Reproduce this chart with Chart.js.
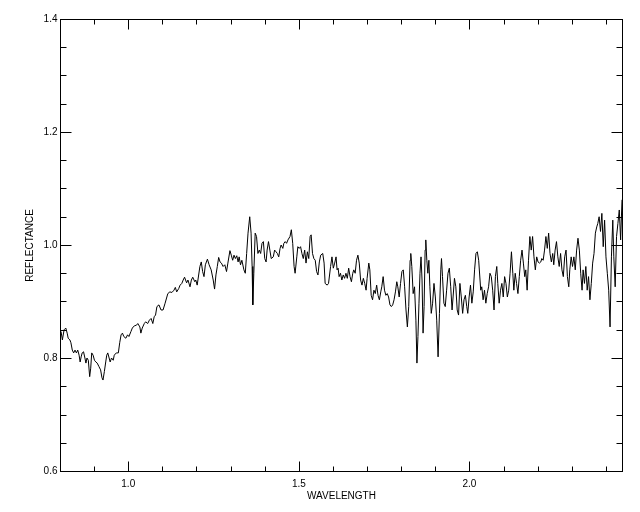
<!DOCTYPE html>
<html>
<head>
<meta charset="utf-8">
<script src="https://cdn.jsdelivr.net/npm/chart.js@4"></script>
<style>
  html, body { margin: 0; padding: 0; background: #fff; }
</style>
</head>
<body>
<canvas id="spectrum" width="640" height="512"></canvas>
<script>
// spectrum
const wavelength = [
  0.803,0.807,0.812,0.817,0.821,0.824,0.829,0.832,0.836,0.840,
  0.844,0.848,0.852,0.856,0.859,0.862,0.865,0.869,0.873,0.876,
  0.879,0.883,0.887,0.890,0.893,0.897,0.901,0.905,0.909,0.914,
  0.919,0.923,0.926,0.930,0.934,0.937,0.940,0.944,0.947,0.951,
  0.956,0.959,0.965,0.971,0.975,0.979,0.983,0.987,0.993,0.998,
  1.002,1.008,1.012,1.018,1.024,1.028,1.034,1.037,1.041,1.047,
  1.051,1.057,1.062,1.067,1.072,1.076,1.080,1.084,1.090,1.096,
  1.102,1.108,1.116,1.122,1.128,1.134,1.138,1.142,1.148,1.152,
  1.157,1.161,1.165,1.171,1.175,1.181,1.185,1.189,1.195,1.198,
  1.202,1.210,1.214,1.218,1.222,1.226,1.232,1.237,1.243,1.249,
  1.253,1.257,1.261,1.265,1.269,1.273,1.278,1.283,1.288,1.292,
  1.298,1.302,1.306,1.310,1.314,1.318,1.322,1.325,1.329,1.333,
  1.339,1.343,1.347,1.351,1.356,1.360,1.363,1.365,1.368,1.372,
  1.376,1.380,1.384,1.388,1.392,1.396,1.400,1.404,1.407,1.411,
  1.415,1.419,1.425,1.429,1.433,1.437,1.441,1.445,1.448,1.453,
  1.456,1.460,1.464,1.468,1.474,1.478,1.482,1.486,1.489,1.494,
  1.497,1.501,1.505,1.509,1.513,1.517,1.521,1.525,1.529,1.533,
  1.536,1.540,1.544,1.548,1.552,1.556,1.560,1.564,1.570,1.574,
  1.577,1.583,1.587,1.593,1.597,1.601,1.605,1.609,1.612,1.615,
  1.618,1.622,1.626,1.630,1.634,1.638,1.642,1.646,1.650,1.654,
  1.658,1.661,1.665,1.669,1.673,1.677,1.681,1.685,1.689,1.693,
  1.697,1.700,1.705,1.708,1.712,1.716,1.720,1.724,1.728,1.732,
  1.736,1.740,1.743,1.747,1.751,1.755,1.759,1.763,1.767,1.771,
  1.775,1.779,1.783,1.787,1.790,1.794,1.798,1.802,1.806,1.810,
  1.814,1.818,1.822,1.826,1.828,1.831,1.835,1.839,1.843,1.846,
  1.849,1.852,1.855,1.858,1.861,1.864,1.867,1.870,1.872,1.875,
  1.878,1.881,1.884,1.888,1.892,1.896,1.900,1.904,1.908,1.912,
  1.916,1.918,1.921,1.925,1.929,1.933,1.937,1.941,1.945,1.949,
  1.952,1.956,1.960,1.964,1.968,1.972,1.976,1.980,1.984,1.988,
  1.992,1.995,1.999,2.003,2.007,2.011,2.015,2.019,2.023,2.027,
  2.033,2.036,2.040,2.044,2.048,2.052,2.056,2.060,2.064,2.068,
  2.072,2.076,2.080,2.083,2.087,2.091,2.095,2.099,2.103,2.107,
  2.111,2.115,2.119,2.123,2.127,2.130,2.134,2.138,2.142,2.146,
  2.150,2.154,2.158,2.162,2.165,2.169,2.173,2.177,2.181,2.185,
  2.189,2.193,2.197,2.201,2.205,2.209,2.212,2.216,2.220,2.224,
  2.228,2.232,2.236,2.240,2.244,2.247,2.251,2.255,2.259,2.263,
  2.267,2.271,2.275,2.279,2.283,2.287,2.291,2.294,2.298,2.302,
  2.306,2.310,2.314,2.318,2.322,2.326,2.330,2.333,2.337,2.341,
  2.345,2.349,2.353,2.357,2.361,2.365,2.369,2.373,2.376,2.380,
  2.384,2.388,2.392,2.396,2.400,2.404,2.408,2.412,2.416,2.420,
  2.423,2.427,2.431,2.435,2.439,2.443,2.447
];
const reflectance = [
  0.847,0.832,0.850,0.853,0.844,0.835,0.832,0.827,0.814,0.809,
  0.814,0.809,0.814,0.805,0.793,0.802,0.809,0.811,0.800,0.791,
  0.800,0.796,0.767,0.782,0.809,0.805,0.796,0.793,0.791,0.785,
  0.779,0.765,0.761,0.776,0.793,0.805,0.809,0.800,0.793,0.800,
  0.796,0.805,0.809,0.809,0.827,0.841,0.844,0.838,0.835,0.841,
  0.838,0.847,0.853,0.857,0.858,0.861,0.855,0.844,0.853,0.861,
  0.864,0.861,0.867,0.870,0.861,0.873,0.876,0.891,0.894,0.885,
  0.885,0.897,0.914,0.917,0.916,0.920,0.925,0.917,0.923,0.929,
  0.932,0.938,0.943,0.933,0.938,0.926,0.938,0.943,0.935,0.938,
  0.929,0.962,0.970,0.953,0.944,0.965,0.975,0.965,0.956,0.938,
  0.922,0.947,0.962,0.978,0.970,0.968,0.962,0.965,0.953,0.968,
  0.990,0.982,0.973,0.982,0.976,0.981,0.970,0.979,0.965,0.973,
  0.956,0.950,0.985,1.021,1.050,1.021,0.962,0.894,0.950,1.021,
  1.015,0.985,0.991,0.985,1.003,1.006,0.976,0.970,0.991,1.006,
  0.991,0.976,0.979,0.991,0.988,0.985,0.979,0.994,1.000,0.994,
  1.003,1.006,1.003,1.009,1.015,1.027,1.003,0.962,0.950,0.979,
  0.997,0.994,0.997,0.985,0.976,0.991,0.968,0.988,0.976,1.015,
  1.018,0.985,0.976,0.973,0.953,0.947,0.970,0.982,0.985,0.968,
  0.932,0.929,0.932,0.962,0.979,0.959,0.968,0.979,0.956,0.959,
  0.944,0.950,0.938,0.947,0.941,0.950,0.941,0.959,0.944,0.935,
  0.950,0.956,0.950,0.973,0.982,0.968,0.938,0.929,0.941,0.932,
  0.920,0.941,0.968,0.956,0.911,0.903,0.920,0.914,0.929,0.911,
  0.903,0.917,0.926,0.944,0.920,0.911,0.914,0.908,0.894,0.891,
  0.894,0.903,0.917,0.935,0.926,0.908,0.932,0.953,0.956,0.926,
  0.885,0.855,0.891,0.973,0.985,0.962,0.914,0.926,0.867,0.791,
  0.838,0.897,0.950,0.979,0.938,0.844,0.891,0.991,1.009,0.973,
  0.950,0.973,0.926,0.879,0.897,0.932,0.908,0.867,0.802,0.879,
  0.956,0.976,0.944,0.897,0.891,0.920,0.950,0.959,0.926,0.885,
  0.908,0.941,0.926,0.885,0.876,0.932,0.908,0.879,0.903,0.911,
  0.891,0.879,0.908,0.929,0.897,0.917,0.956,0.985,0.988,0.973,
  0.920,0.926,0.903,0.920,0.897,0.914,0.926,0.950,0.944,0.920,
  0.885,0.944,0.962,0.932,0.897,0.920,0.932,0.908,0.944,0.932,
  0.908,0.920,0.950,0.988,0.950,0.920,0.950,0.932,0.914,0.944,
  0.973,0.991,0.968,0.944,0.956,0.920,0.973,1.015,0.991,1.015,
  0.979,0.956,0.979,0.970,0.968,0.970,0.976,0.973,0.991,1.015,
  0.994,1.021,0.985,0.970,0.985,0.965,0.991,1.006,0.979,0.962,
  0.985,0.956,0.944,0.979,0.991,0.944,0.926,0.956,0.979,0.962,
  0.979,0.956,0.991,1.012,0.991,0.950,0.920,0.956,0.932,0.962,
  0.920,0.944,0.903,0.932,0.968,0.985,1.021,1.032,1.038,1.050,
  1.024,1.056,0.997,1.044,0.979,0.950,0.920,0.855,0.979,1.044,
  0.979,0.926,1.015,1.038,1.062,1.009,1.080
];

// axis ticks
const xMajor = [1.0, 1.5, 2.0];
const xMinor = [0.9, 1.1, 1.2, 1.3, 1.4, 1.6, 1.7, 1.8, 1.9, 2.1, 2.2, 2.3, 2.4];
const yMajor = [0.6, 0.8, 1.0, 1.2, 1.4];
const yMinor = [0.65, 0.7, 0.75, 0.85, 0.9, 0.95, 1.05, 1.1, 1.15, 1.25, 1.3, 1.35];

const points = wavelength.map((w, i) => ({ x: w, y: reflectance[i] }));

// frame, inward ticks on all sides, labels
const framePlugin = {
  id: "frame",
  afterDraw(chart) {
    const ctx = chart.ctx;
    const a = chart.chartArea;
    const xs = chart.scales.x;
    const ys = chart.scales.y;
    const L = Math.round(a.left) + 0.5, R = Math.round(a.right) + 0.5;
    const T = Math.round(a.top) + 0.5, B = Math.round(a.bottom) + 0.5;

    ctx.save();
    ctx.strokeStyle = "#000";
    ctx.lineWidth = 1;
    ctx.strokeRect(L, T, R - L, B - T);

    ctx.beginPath();
    function xTick(v, len) {
      const px = Math.round(xs.getPixelForValue(v)) + 0.5;
      ctx.moveTo(px, B); ctx.lineTo(px, B - len);
      ctx.moveTo(px, T); ctx.lineTo(px, T + len);
    }
    function yTick(v, len) {
      const py = Math.round(ys.getPixelForValue(v)) + 0.5;
      ctx.moveTo(L, py); ctx.lineTo(L + len, py);
      ctx.moveTo(R, py); ctx.lineTo(R - len, py);
    }
    xMajor.forEach(v => xTick(v, 10));
    xMinor.forEach(v => xTick(v, 5));
    yMajor.forEach(v => yTick(v, 11));
    yMinor.forEach(v => yTick(v, 6));
    ctx.stroke();

    ctx.fillStyle = "#000";
    ctx.font = "10px 'Liberation Sans', Arial, sans-serif";
    ctx.textAlign = "center";
    ctx.textBaseline = "middle";
    xMajor.forEach(v => ctx.fillText(v.toFixed(1), xs.getPixelForValue(v), B + 13));
    ctx.textAlign = "right";
    yMajor.forEach(v => ctx.fillText(v.toFixed(1), L - 3, ys.getPixelForValue(v)));

    // axis titles
    ctx.textAlign = "center";
    ctx.fillText("WAVELENGTH", (L + R) / 2, B + 25);
    ctx.translate(30, (T + B) / 2);
    ctx.rotate(-Math.PI / 2);
    ctx.fillText("REFLECTANCE", 0, 0);
    ctx.restore();
  }
};

new Chart(document.getElementById("spectrum"), {
  type: "line",
  data: {
    datasets: [{
      data: points,
      borderColor: "#000",
      borderWidth: 1,
      pointRadius: 0,
      tension: 0,
      fill: false
    }]
  },
  options: {
    responsive: false,
    animation: false,
    layout: { padding: { left: 60, right: 18, top: 19, bottom: 41 } },
    plugins: { legend: { display: false }, tooltip: { enabled: false } },
    scales: {
      x: { type: "linear", min: 0.8, max: 2.447, display: false },
      y: { type: "linear", min: 0.6, max: 1.4, display: false }
    }
  },
  plugins: [framePlugin]
});
</script>
</body>
</html>
